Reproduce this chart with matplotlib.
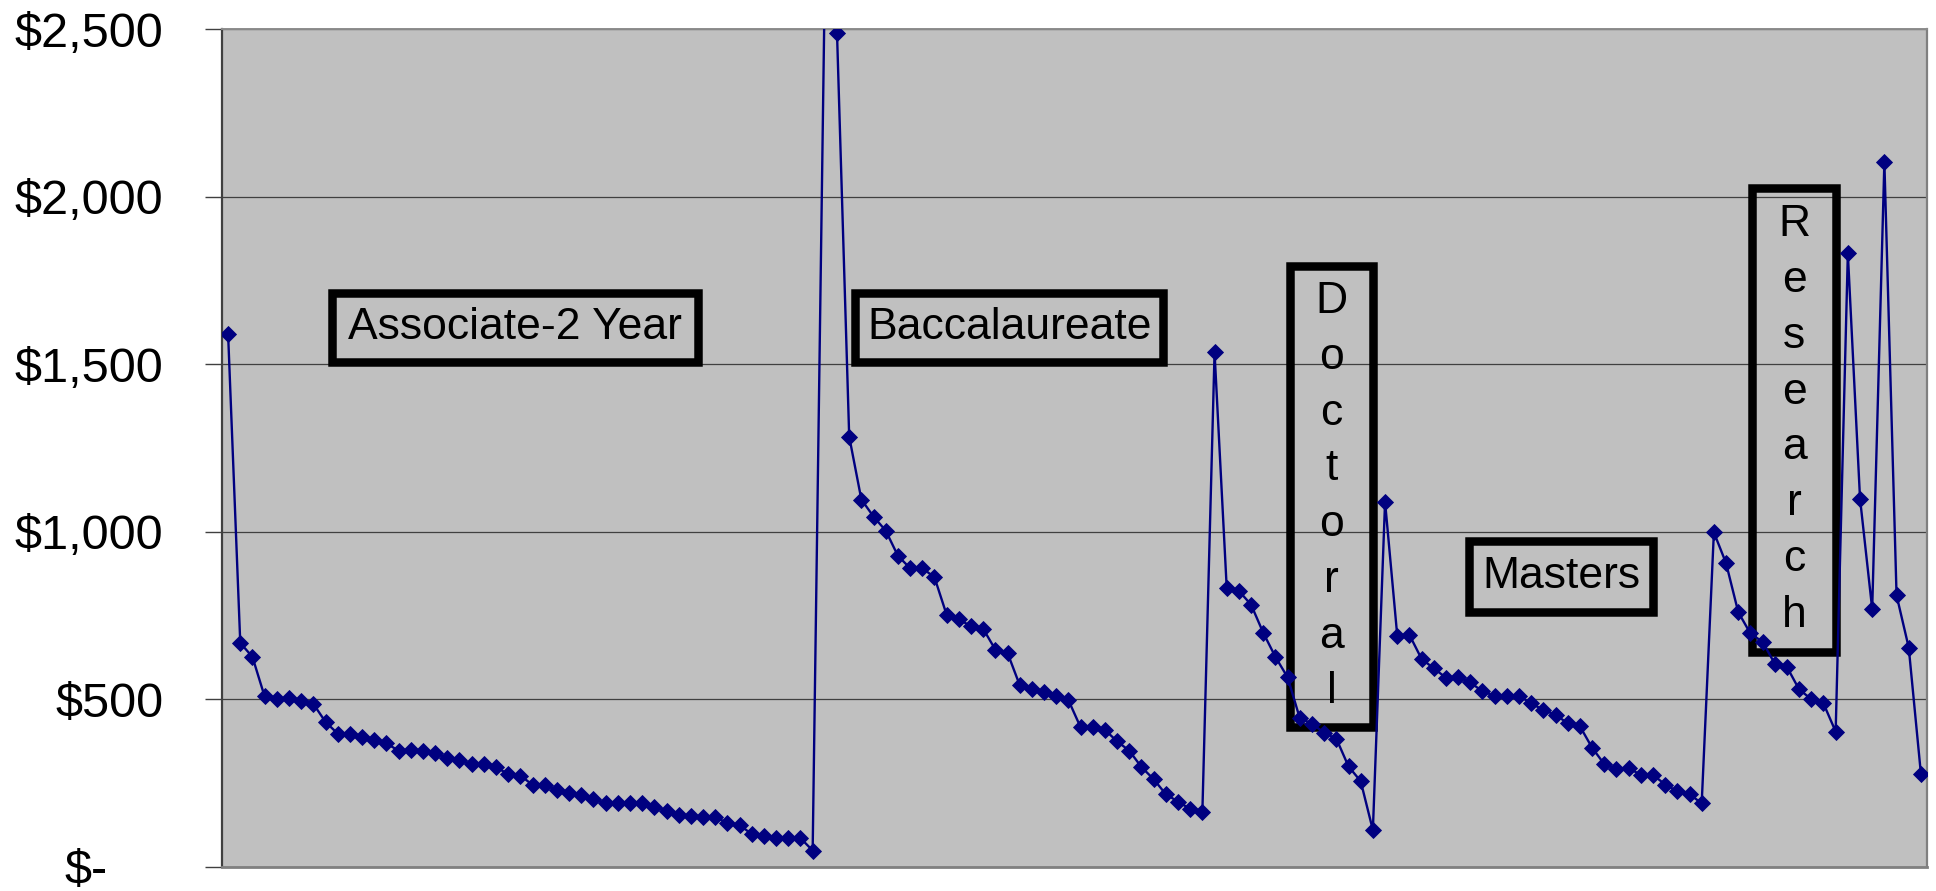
import matplotlib
matplotlib.use("Agg")
import matplotlib.pyplot as plt
import numpy as np
from matplotlib.patches import Rectangle

# ---- data ----
associate = [1591, 668, 626, 508, 499, 502, 493, 486, 432, 397, 397, 388, 377, 368,
             346, 349, 346, 338, 325, 318, 305, 305, 296, 277, 272, 244, 244, 229,
             221, 214, 202, 189, 189, 189, 189, 179, 167, 154, 151, 147, 147, 131,
             124, 97, 90, 85, 85, 85, 48]
baccalaureate = [2650, 2488, 1284, 1096, 1045, 1003, 928, 891, 891, 864, 752, 738,
                 718, 710, 648, 638, 542, 529, 522, 508, 497, 416, 416, 408, 374,
                 346, 297, 261, 216, 194, 172, 164]
doctoral = [1535, 831, 823, 782, 698, 626, 565, 443, 427, 399, 382, 299, 255, 109]
masters = [1089, 690, 692, 620, 592, 564, 567, 550, 523, 510, 510, 510, 487, 468,
           453, 428, 419, 355, 306, 292, 294, 274, 274, 245, 225, 216, 189]
research = [998, 906, 760, 696, 671, 606, 596, 529, 500, 487, 403, 1831, 1099, 769,
            2103, 810, 654, 277]

group_labels = ["Associate-2 Year", "Baccalaureate", "Doctoral", "Masters", "Research"]
ytick_values = [0, 500, 1000, 1500, 2000, 2500]
ytick_labels = ["$-", "$500", "$1,000", "$1,500", "$2,000", "$2,500"]

values = associate + baccalaureate + doctoral + masters + research
x = np.arange(len(values))

plt.rcParams['font.family'] = ['Liberation Sans', 'DejaVu Sans']

W, H = 1936, 891
fig = plt.figure(figsize=(W / 100, H / 100), dpi=100)
fig.patch.set_facecolor('white')

ax_l, ax_r, ax_t, ax_b = 222, 1927, 29.3, 866.6
ax = fig.add_axes([ax_l / W, 1 - ax_b / H, (ax_r - ax_l) / W, (ax_b - ax_t) / H])
ax.set_facecolor('#C0C0C0')

ax.plot(x, values, color='#000080', lw=1.7, marker='D', ms=8.3,
        mfc='#000080', mec='#000080', mew=0.6, zorder=3, clip_on=True)

ax.set_xlim(-0.5, len(values) - 0.5)
ax.set_ylim(0, 2500)

ax.set_yticks(ytick_values)
ax.set_yticklabels(ytick_labels)
ax.tick_params(axis='y', length=12.2, width=1, color='#404040', pad=30,
               labelsize=35, labelcolor='black')
ax.tick_params(axis='x', bottom=False, labelbottom=False)
ax.yaxis.grid(True, color='#404040', lw=0.9)
ax.set_axisbelow(True)

ax.spines['left'].set_color('#404040')
ax.spines['left'].set_linewidth(1.6)
ax.spines['bottom'].set_color('#808080')
ax.spines['bottom'].set_linewidth(2)
ax.spines['right'].set_color('#808080')
ax.spines['right'].set_linewidth(1.6)
ax.spines['top'].set_color('#8c8c8c')
ax.spines['top'].set_linewidth(1.4)

# "$-" label sits further left (accounting format)
ax.yaxis.get_major_ticks()[0].label1.set_x(-56 / (ax_r - ax_l))

# ---- labelled boxes (layout in figure pixels) ----
box_layout = [
    (328.0, 288.5, 702.5, 366.5, False),
    (851.0, 288.5, 1167.5, 366.5, False),
    (1285.7, 262.0, 1377.3, 731.5, True),
    (1464.3, 536.7, 1657.7, 616.0, False),
    (1747.8, 184.0, 1840.7, 656.0, True),
]
lw_px = 8.5
for label, (x0, y0, x1, y1, vertical) in zip(group_labels, box_layout):
    inset = lw_px / 2
    rect = Rectangle(((x0 + inset) / W, 1 - (y1 - inset) / H),
                     (x1 - x0 - 2 * inset) / W, (y1 - y0 - 2 * inset) / H,
                     transform=fig.transFigure, fill=False, ec='black',
                     lw=lw_px * 0.72, joinstyle='miter', zorder=1.5)
    rect.set_clip_on(False)
    ax.add_artist(rect)
    txt = "\n".join(label) if vertical else label
    fig.text((x0 + x1) / 2 / W, 1 - (y0 + y1) / 2 / H, txt, ha='center',
             va='center', fontsize=32, linespacing=1.46, color='black')

fig.savefig('out.png', dpi=100)
